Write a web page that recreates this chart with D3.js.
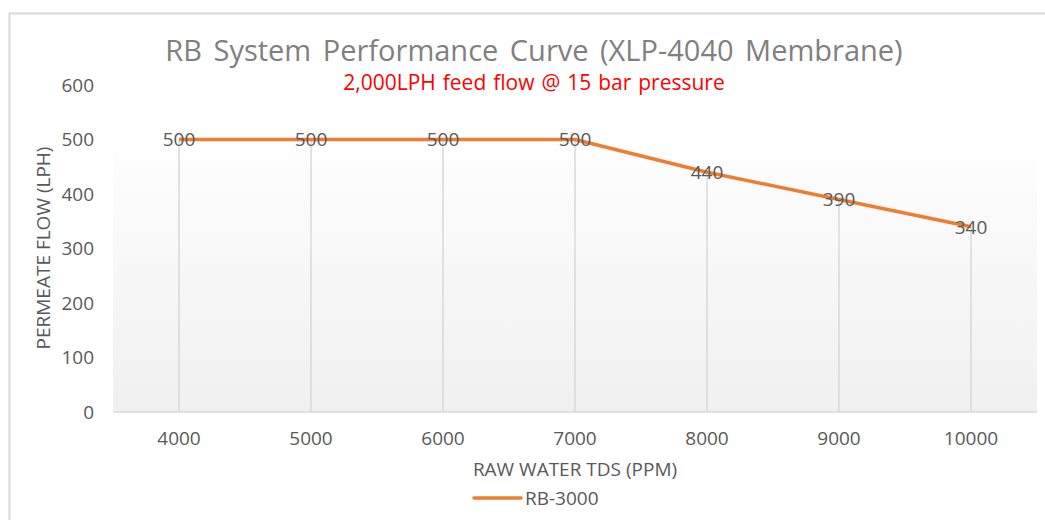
<!DOCTYPE html>
<html><head><meta charset="utf-8">
<script src="https://cdn.jsdelivr.net/npm/d3@7"></script>
<style>body{margin:0;background:#fff}svg{display:block}text{font-family:"Open Sans",sans-serif}</style>
</head><body><svg id="c" width="1045" height="520"></svg>
<script>
const categories = ["4000","5000","6000","7000","8000","9000","10000"];
const seriesName = "RB-3000";
const values = [500,500,500,500,440,390,340];
const yTicks = [0,100,200,300,400,500,600];

const svg = d3.select("#c");
const m = {left:113, right:1037, top:85, bottom:412};

svg.append("rect").attr("x",9.5).attr("y",13.5).attr("width",1100).attr("height",600)
  .attr("fill","#fff").attr("stroke","#d9d9d9").attr("stroke-width",2);

const defs = svg.append("defs");
const g = defs.append("linearGradient").attr("id","bg").attr("x1",0).attr("y1",0).attr("x2",0).attr("y2",1);
g.append("stop").attr("offset","0%").attr("stop-color","#ffffff");
g.append("stop").attr("offset","100%").attr("stop-color","#f0f0f0");

const x = d3.scaleBand().domain(categories).range([m.left,m.right]);
const y = d3.scaleLinear().domain([0,600]).range([m.bottom,m.top]);

svg.append("rect").attr("x",m.left).attr("y",125).attr("width",m.right-m.left).attr("height",m.bottom-125)
  .attr("fill","url(#bg)");

svg.append("g").selectAll("line").data(values).join("line")
  .attr("x1",(d,i)=>x(categories[i])+x.bandwidth()/2)
  .attr("x2",(d,i)=>x(categories[i])+x.bandwidth()/2)
  .attr("y1",d=>y(d)).attr("y2",y(0))
  .attr("stroke","#d9d9d9").attr("stroke-width",1.5);

svg.append("line").attr("x1",m.left).attr("x2",m.right).attr("y1",y(0)).attr("y2",y(0))
  .attr("stroke","#d9d9d9").attr("stroke-width",1.5);

const ya = svg.append("g").attr("transform",`translate(${m.left-19},0)`)
  .call(d3.axisLeft(y).tickValues(yTicks).tickSize(0).tickPadding(0));
ya.select(".domain").remove();
ya.selectAll("text").attr("font-size",19).attr("fill","#595959").attr("font-family","Open Sans");

const xa = svg.append("g").attr("transform",`translate(0,${y(0)})`)
  .call(d3.axisBottom(x).tickSize(0).tickPadding(20));
xa.select(".domain").remove();
xa.selectAll("text").attr("font-size",19).attr("fill","#595959").attr("font-family","Open Sans");

const line = d3.line().x((d,i)=>x(categories[i])+x.bandwidth()/2).y(d=>y(d));
svg.append("path").datum(values).attr("d",line).attr("fill","none")
  .attr("stroke","#ED7D31").attr("stroke-width",3.5).attr("stroke-linejoin","round");

svg.append("g").selectAll("text").data(values).join("text")
  .attr("x",(d,i)=>x(categories[i])+x.bandwidth()/2)
  .attr("y",d=>y(d)).attr("dy","0.36em").attr("text-anchor","middle")
  .attr("font-size",19).attr("fill","#595959").text(d=>d);

svg.append("text").attr("x",534).attr("y",61).attr("text-anchor","middle")
  .attr("font-size",29).attr("fill","#808080").attr("word-spacing",4).text("RB System Performance Curve (XLP-4040 Membrane)");
svg.append("text").attr("x",534).attr("y",90).attr("text-anchor","middle")
  .attr("font-size",21).attr("fill","#ff0000").attr("word-spacing",1.5).text("2,000LPH feed flow @ 15 bar pressure");

svg.append("text").attr("x",575).attr("y",476).attr("text-anchor","middle")
  .attr("font-size",19).attr("fill","#595959").text("RAW WATER TDS (PPM)");
svg.append("text").attr("transform","translate(50,248) rotate(-90)").attr("text-anchor","middle")
  .attr("font-size",19).attr("fill","#595959").text("PERMEATE FLOW (LPH)");

svg.append("line").attr("x1",474).attr("x2",521).attr("y1",498).attr("y2",498)
  .attr("stroke","#ED7D31").attr("stroke-width",3.5).attr("stroke-linecap","round");
svg.append("text").attr("x",525).attr("y",505).attr("font-size",19).attr("fill","#595959").text(seriesName);
</script></body></html>
